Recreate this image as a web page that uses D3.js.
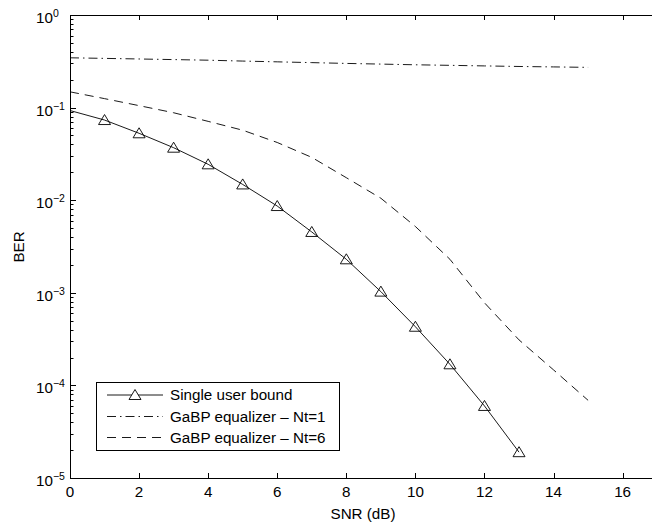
<!DOCTYPE html>
<html><head><meta charset="utf-8">
<script src="https://cdnjs.cloudflare.com/ajax/libs/d3/7.8.5/d3.min.js"></script>
<style>body{margin:0;background:#fff}svg{display:block}text{font-family:"Liberation Sans",Arial,Helvetica,sans-serif;fill:#000}</style>
</head><body><svg id="c" width="652" height="527"></svg>
<script>
const snrSingle = [0,1,2,3,4,5,6,7,8,9,10,11,12,13];
const berSingle = [0.093,0.0734,0.0528,0.0369,0.0244,0.0148,0.00865,0.00454,0.0023,0.00103,0.00043,0.000169,0.00006,0.000019];
const markerSnr = [1,2,3,4,5,6,7,8,9,10,11,12,13];
const snrGabp = [0,1,2,3,4,5,6,7,8,9,10,11,12,13,14,15];
const berNt1 = [0.345,0.34,0.335,0.33,0.325,0.318,0.312,0.306,0.300,0.295,0.29,0.286,0.282,0.278,0.275,0.272];
const berNt6 = [0.148,0.125,0.105,0.088,0.071,0.057,0.042,0.029,0.0175,0.0105,0.0052,0.0023,0.00078,0.00031,0.000147,0.000069];
const xTicks = [0,2,4,6,8,10,12,14,16];
const yExps = [0,-1,-2,-3,-4,-5];
const legendLabels = ["Single user bound","GaBP equalizer \u2013 Nt=1","GaBP equalizer \u2013 Nt=6"];

const svg = d3.select("#c");
const L=70, T=15, B=478;
const x = d3.scaleLinear().domain([0,17]).range([L, L+17*34.54]);
const y = d3.scaleLog().domain([1e-5,1]).range([B,T]);
const fs = 15.2;

const g = svg.append("g");
g.append("line").attr("x1",L).attr("x2",652).attr("y1",B+0.5).attr("y2",B+0.5).attr("stroke","#000");
g.append("line").attr("x1",L).attr("x2",652).attr("y1",T+0.5).attr("y2",T+0.5).attr("stroke","#000");
g.append("line").attr("x1",L+0.5).attr("x2",L+0.5).attr("y1",T).attr("y2",B+1).attr("stroke","#000");

xTicks.forEach(t=>{
  const px = Math.round(x(t))+0.5;
  g.append("line").attr("x1",px).attr("x2",px).attr("y1",B).attr("y2",B-5).attr("stroke","#000");
  g.append("line").attr("x1",px).attr("x2",px).attr("y1",T).attr("y2",T+5).attr("stroke","#000");
  g.append("text").attr("x",x(t)).attr("y",497).attr("text-anchor","middle").attr("font-size",fs).text(t);
});
yExps.forEach(e=>{
  const py = Math.round(y(Math.pow(10,e)))+0.5;
  g.append("line").attr("x1",L).attr("x2",L+6).attr("y1",py).attr("y2",py).attr("stroke","#000");
  const tx = g.append("text").attr("x",36).attr("y",py+7).attr("font-size",fs);
  tx.append("tspan").text("10");
  tx.append("tspan").attr("dy",-6).attr("font-size",10.5).text(e===0?"0":"\u2212"+Math.abs(e));
  if(e>-5){
    for(let m=2;m<=9;m++){
      const v=m*Math.pow(10,e-1);
      const pm=Math.round(y(v))+0.5;
      g.append("line").attr("x1",L).attr("x2",L+3.5).attr("y1",pm).attr("y2",pm).attr("stroke","#000");
    }
  }
});
g.append("text").attr("x",363).attr("y",519).attr("text-anchor","middle").attr("font-size",fs).text("SNR (dB)");
g.append("text").attr("transform","translate(24,247) rotate(-90)").attr("text-anchor","middle").attr("font-size",fs).text("BER");

const line = d3.line().x(d=>x(d[0])).y(d=>y(d[1]));
svg.append("path").datum(snrGabp.map((s,i)=>[s,berNt1[i]])).attr("d",line)
  .attr("fill","none").attr("stroke","#000").attr("stroke-width",0.9).attr("stroke-dasharray","9,4,1.5,4");
svg.append("path").datum(snrGabp.map((s,i)=>[s,berNt6[i]])).attr("d",line)
  .attr("fill","none").attr("stroke","#000").attr("stroke-width",0.9).attr("stroke-dasharray","9,6");
svg.append("path").datum(snrSingle.map((s,i)=>[s,berSingle[i]])).attr("d",line)
  .attr("fill","none").attr("stroke","#000").attr("stroke-width",0.9);
const tri = "M0,-5.5L6,4.5L-6,4.5Z";
svg.selectAll(".mk").data(markerSnr).enter().append("path")
  .attr("transform",s=>`translate(${x(s)},${y(berSingle[snrSingle.indexOf(s)])})`)
  .attr("d",tri).attr("fill","none").attr("stroke","#000").attr("stroke-width",0.9);

const lg = svg.append("g");
lg.append("rect").attr("x",96.5).attr("y",382.5).attr("width",243).attr("height",68).attr("fill","#fff").attr("stroke","#000");
const rowsY=[395,416.5,437.5];
const dashes=[null,"9,4,1.5,4","9,6"];
legendLabels.forEach((lab,i)=>{
  const ln = lg.append("line").attr("x1",107).attr("x2",163).attr("y1",rowsY[i]).attr("y2",rowsY[i]).attr("stroke","#000").attr("stroke-width",0.9);
  if(dashes[i]) ln.attr("stroke-dasharray",dashes[i]);
  if(i===0) lg.append("path").attr("transform",`translate(135,${rowsY[i]})`).attr("d",tri).attr("fill","#fff").attr("stroke","#000").attr("stroke-width",0.9);
  lg.append("text").attr("x",170).attr("y",rowsY[i]+5).attr("font-size",fs).text(lab);
});
</script></body></html>
